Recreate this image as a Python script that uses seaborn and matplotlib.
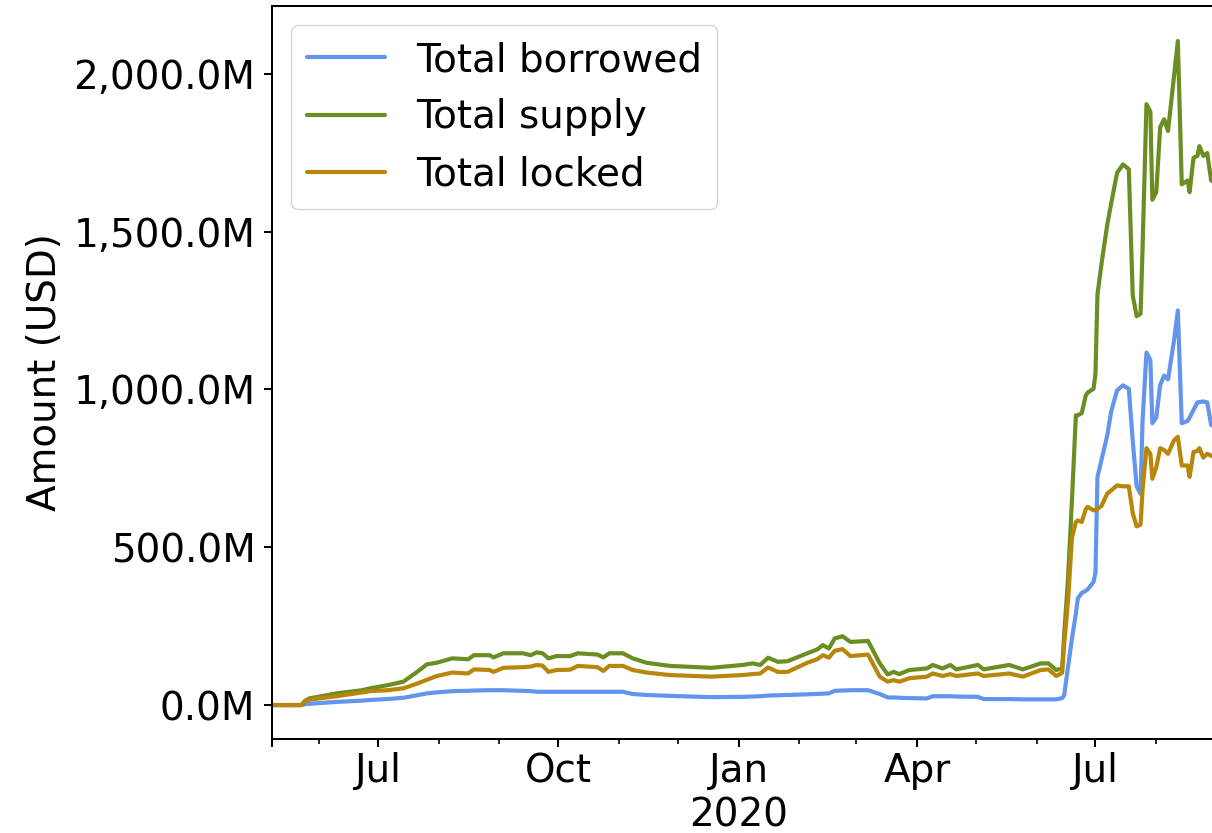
import matplotlib
matplotlib.use("Agg")
import matplotlib.pyplot as plt
import matplotlib.dates as mdates
import matplotlib.ticker as mticker
import pandas as pd
import seaborn as sns

# ---------------- data (values in millions of USD) ----------------
dates = [
    "2019-05-08", "2019-05-23", "2019-05-25", "2019-05-27",
    "2019-06-10", "2019-06-23", "2019-06-27",
    "2019-07-06", "2019-07-14", "2019-07-21", "2019-07-26", "2019-07-31",
    "2019-08-08", "2019-08-16", "2019-08-19", "2019-08-27", "2019-08-29",
    "2019-09-03", "2019-09-13", "2019-09-17", "2019-09-20", "2019-09-23", "2019-09-26", "2019-09-30",
    "2019-10-07", "2019-10-11", "2019-10-21", "2019-10-24", "2019-10-27",
    "2019-11-03", "2019-11-08", "2019-11-15", "2019-11-27",
    "2019-12-18",
    "2020-01-03", "2020-01-08", "2020-01-12", "2020-01-16", "2020-01-21", "2020-01-26",
    "2020-02-05", "2020-02-10", "2020-02-13", "2020-02-16", "2020-02-19", "2020-02-23", "2020-02-27",
    "2020-03-07", "2020-03-13", "2020-03-17", "2020-03-20", "2020-03-23", "2020-03-28",
    "2020-04-06", "2020-04-09", "2020-04-14", "2020-04-18", "2020-04-21",
    "2020-05-02", "2020-05-05", "2020-05-18", "2020-05-25",
    "2020-06-03", "2020-06-07", "2020-06-11", "2020-06-14", "2020-06-15", "2020-06-17",
    "2020-06-19", "2020-06-21", "2020-06-22", "2020-06-24", "2020-06-26", "2020-06-27", "2020-06-30",
    "2020-07-01", "2020-07-02", "2020-07-04", "2020-07-07", "2020-07-09", "2020-07-12", "2020-07-15",
    "2020-07-18", "2020-07-20", "2020-07-22", "2020-07-24", "2020-07-25", "2020-07-27", "2020-07-29",
    "2020-07-30",
    "2020-08-01", "2020-08-03", "2020-08-05", "2020-08-07", "2020-08-10", "2020-08-12", "2020-08-14",
    "2020-08-17", "2020-08-18", "2020-08-20", "2020-08-22", "2020-08-23", "2020-08-25", "2020-08-27",
    "2020-08-29", "2020-09-02",
]

total_borrowed = [
    0, 0, 3, 4,
    10, 14, 16,
    19, 23, 31, 37, 40,
    44, 45, 46, 47, 47,
    47, 45, 44, 42, 42, 42, 42,
    42, 42, 42, 42, 42,
    42, 35, 32, 29,
    25,
    26, 27, 28, 30, 31, 32,
    34, 35, 36, 37, 45, 46, 47,
    47, 35, 24, 24, 23, 22,
    21, 28, 28, 28, 27,
    26, 19, 19, 18,
    18, 18, 18, 22, 30, 121,
    210, 290, 338, 355, 362, 366, 390,
    420, 722, 775, 854, 930, 997, 1013,
    1002, 838, 693, 669, 899, 1117, 1093,
    893,
    911, 1014, 1044, 1032, 1153, 1250, 893,
    900, 911, 935, 959, 960, 962, 959,
    887, 880,
]

total_supply = [
    0, 0, 14, 21,
    37, 47, 53,
    63, 74, 105, 129, 134,
    148, 145, 158, 158, 151,
    164, 164, 158, 167, 164, 148, 155,
    155, 164, 160, 151, 164,
    164, 148, 134, 124,
    118,
    127, 132, 127, 150, 137, 139,
    164, 176, 190, 179, 211, 218, 200,
    203, 132, 97, 105, 98, 111,
    116, 127, 116, 127, 113,
    127, 113, 127, 113,
    132, 132, 111, 116, 220, 400,
    649, 918, 918, 925, 980, 990, 1002,
    1050, 1300, 1395, 1522, 1589, 1686, 1713,
    1698, 1298, 1232, 1240, 1444, 1904, 1880,
    1601,
    1625, 1831, 1856, 1819, 1989, 2104, 1650,
    1662, 1625, 1734, 1740, 1771, 1740, 1749,
    1662, 1650,
]

total_locked = [
    0, 0, 12, 17,
    28, 40, 44,
    47, 53, 68, 80, 92,
    103, 100, 113, 111, 105,
    118, 120, 122, 127, 125, 105, 111,
    112, 124, 120, 108, 124,
    124, 111, 103, 95,
    90,
    95, 98, 100, 119, 105, 105,
    134, 145, 158, 150, 172, 177, 155,
    160, 90, 74, 79, 74, 85,
    90, 100, 92, 98, 92,
    100, 92, 100, 90,
    111, 113, 92, 102, 190, 330,
    530, 580, 585, 580, 620, 628, 617,
    618, 622, 630, 670, 680, 696, 693,
    693, 608, 566, 572, 681, 814, 796,
    717,
    753, 814, 808, 796, 838, 850, 759,
    759, 723, 802, 805, 814, 784, 796,
    790, 780,
]

series_names = ["Total borrowed", "Total supply", "Total locked"]
series_colors = ["#6495ED", "#6B8E23", "#B8860B"]
y_ticks = [0, 500, 1000, 1500, 2000]

# ---------------- style ----------------
sns.set_style("ticks", {"axes.edgecolor": "black", "xtick.color": "black",
                        "ytick.color": "black", "text.color": "black",
                        "axes.labelcolor": "black"})
plt.rcParams["font.family"] = ["DejaVu Sans"]
plt.rcParams.update({
    "font.size": 28,
    "axes.linewidth": 1.45,
    "xtick.major.size": 6, "xtick.major.width": 1.45,
    "xtick.minor.size": 3.5, "xtick.minor.width": 1.2,
    "ytick.major.size": 6, "ytick.major.width": 1.45,
    "xtick.major.pad": 5, "ytick.major.pad": 6,
})

df = pd.DataFrame({
    "date": pd.to_datetime(dates),
    series_names[0]: total_borrowed,
    series_names[1]: total_supply,
    series_names[2]: total_locked,
})

fig = plt.figure(figsize=(12.12, 8.33), dpi=100)
ax = fig.add_axes([272 / 1212, (833 - 738.5) / 833, (1219 - 272) / 1212, (738.5 - 6) / 833])

for name, col in zip(series_names, series_colors):
    sns.lineplot(data=df, x="date", y=name, ax=ax, color=col, linewidth=3.0,
                 label=name, estimator=None)

ax.set_xlim(df["date"].iloc[0], df["date"].iloc[-1])
ax.set_ylim(-106, 2215)
ax.set_yticks(y_ticks)
ax.yaxis.set_major_formatter(mticker.FuncFormatter(lambda v, p: f"{v:,.1f}M"))

start = df["date"].iloc[0]
major_dates = [start] + list(pd.date_range("2019-07-01", "2020-07-01", freq="3MS"))
ax.xaxis.set_major_locator(mticker.FixedLocator(mdates.date2num(major_dates)))


def fmt_date(v, p):
    d = mdates.num2date(v)
    if d.day != 1:
        return ""
    s = d.strftime("%b")
    if d.month == 1:
        s += "\n" + str(d.year)
    return s


ax.xaxis.set_major_formatter(mticker.FuncFormatter(fmt_date))
ax.xaxis.set_minor_locator(mdates.MonthLocator())
ax.tick_params(axis="both", labelsize=28)
ax.tick_params(axis="x", pad=4)

ax.set_xlabel("")
ax.set_ylabel("Amount (USD)", fontsize=28, labelpad=7)

ax.legend(loc="upper left", fontsize=28)

fig.savefig("out.png", dpi=100)
